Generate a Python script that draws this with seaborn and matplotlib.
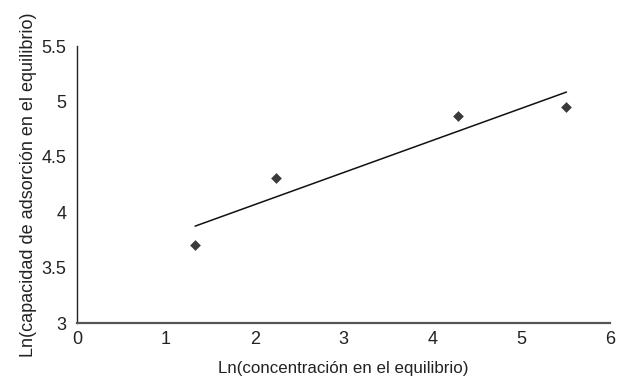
import matplotlib
matplotlib.use("Agg")
import matplotlib.pyplot as plt
import seaborn as sns
import pandas as pd

ln_conc = [1.33, 2.24, 4.29, 5.51]
ln_cap = [3.70, 4.31, 4.87, 4.95]
x_ticks = [0, 1, 2, 3, 4, 5, 6]
y_ticks = [3, 3.5, 4, 4.5, 5, 5.5]
y_tick_labels = ["3", "3.5", "4", "4.5", "5", "5.5"]

sns.set_theme(style="white")
plt.rcParams['font.family'] = ['Liberation Sans', 'DejaVu Sans']

df = pd.DataFrame({"x": ln_conc, "y": ln_cap})

fig = plt.figure(figsize=(6.25, 3.78), dpi=100)
ax = fig.add_axes([0.1232, 0.1455, 0.8528, 0.7325])

sns.regplot(data=df, x="x", y="y", ci=None, ax=ax, marker="D",
            scatter_kws={"color": "#3a3a3a", "s": 30, "linewidths": 0, "alpha": 1},
            line_kws={"color": "#111111", "linewidth": 1.1})

ax.set_xlim(0, 6)
ax.set_ylim(3, 5.5)
ax.set_xticks(x_ticks)
ax.set_xticklabels([str(t) for t in x_ticks])
ax.set_yticks(y_ticks)
ax.set_yticklabels(y_tick_labels)

for s in ["top", "right"]:
    ax.spines[s].set_visible(False)
ax.spines["left"].set_color("#222222")
ax.spines["left"].set_linewidth(1.0)
ax.spines["bottom"].set_color("#555555")
ax.spines["bottom"].set_linewidth(1.6)

ax.tick_params(axis="x", direction="in", length=4, width=1, colors="#555555",
               labelcolor="#222222", labelsize=13, pad=6)
ax.tick_params(axis="y", direction="out", length=3.5, width=1, colors="#222222",
               labelcolor="#222222", labelsize=13, pad=4)

ax.set_xlabel("Ln(concentración en el equilibrio)", fontsize=12.2, color="#222222", labelpad=9)
ax.set_ylabel("Ln(capacidad de adsorción en el equilibrio)", fontsize=13, color="#222222", labelpad=3.5)

fig.savefig("out.png", dpi=100)
